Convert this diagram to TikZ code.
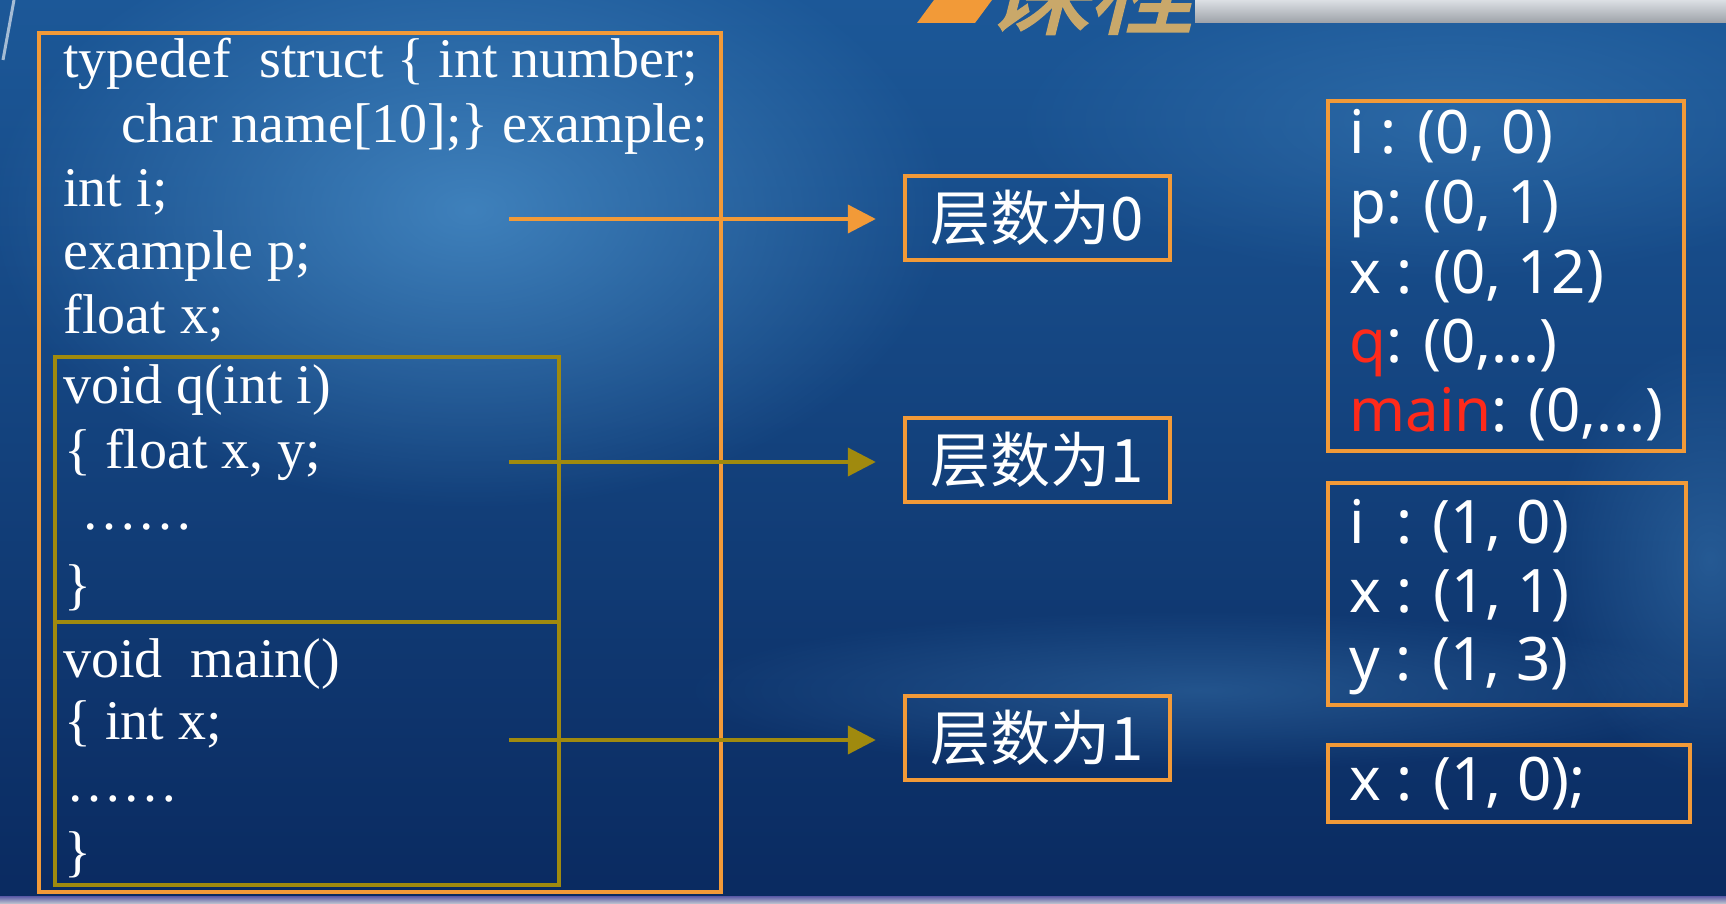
\documentclass[tikz,border=0pt]{standalone}
\usepackage{fontspec}
\setmainfont{Liberation Serif}
\newfontfamily\cjkfont{Noto Sans CJK SC}
\newfontfamily\latinsans{Noto Sans}
\newfontfamily\logofont[FakeBold=2,FakeSlant=0.25]{Noto Sans CJK SC}
\usetikzlibrary{arrows.meta,fadings}
\tikzfading[name=glowfade, inner color=transparent!0, outer color=transparent!100]
\definecolor{bgtop}{HTML}{1C5898}
\definecolor{bgbot}{HTML}{0A2A60}
\definecolor{glow}{HTML}{4C92CC}
\definecolor{orangeline}{HTML}{F29A38}
\definecolor{oliveline}{HTML}{A08A0E}
\definecolor{redtext}{HTML}{FF2A1A}
\definecolor{logotan}{HTML}{C9A86A}
\definecolor{bandgray}{HTML}{C4CAD2}
\tikzset{
  codebox/.style={draw=orangeline, line width=2.2pt, anchor=north west, inner sep=0pt},
  innerbox/.style={draw=oliveline, line width=2pt, anchor=north west, inner sep=0pt},
  codeline/.style={anchor=base west, inner sep=0pt, text=white, font=\fontsize{28}{32}\selectfont},
  levelbox/.style={draw=orangeline, line width=2.2pt, text=white, font=\cjkfont\fontsize{30}{34}\selectfont, minimum width=132.5pt, minimum height=42pt, inner sep=0pt},
  infobox/.style={draw=orangeline, line width=2.2pt, anchor=north west, inner sep=0pt},
  infoline/.style={anchor=base west, inner sep=0pt, text=white, font=\latinsans\fontsize{30}{34}\selectfont},
  arr/.style={line width=2pt, -{Triangle[length=14pt,width=14pt]}, shorten >=13.5pt},
}
\begin{document}
\begin{tikzpicture}[x=0.5pt,y=-0.5pt]
\useasboundingbox (0,0) rectangle (1726,904);
\begin{scope}
\clip (0,0) rectangle (1726,904);
% background
\shade[top color=bgtop, bottom color=bgbot] (0,0) rectangle (1726,904);
\fill[glow, path fading=glowfade, opacity=0.75] (470,210) ellipse [x radius=240pt, y radius=150pt];
\fill[glow!70!bgbot, path fading=glowfade, opacity=0.5] (1200,690) ellipse [x radius=260pt, y radius=40pt];
\fill[glow, path fading=glowfade, opacity=0.35] (1710,560) ellipse [x radius=80pt, y radius=110pt];
\fill[glow, path fading=glowfade, opacity=0.35] (1450,120) ellipse [x radius=220pt, y radius=80pt];
\draw[white, opacity=0.6, line width=1.5pt] (14,0) -- (3,60);
\shade[top color=gray!70!blue, bottom color=bandgray] (0,896) rectangle (1726,904);
% top band and logo
\shade[top color=bandgray!60!white, bottom color=bandgray!80!black] (1195,0) rectangle (1726,23);
\fill[orangeline] (917,23) -- (934,0) -- (992,0) -- (975,23) -- cycle;
\node[anchor=base west, inner sep=0pt, text=logotan, font=\logofont\fontsize{52}{52}\selectfont] (logo) at (985,26) {课程};
\end{scope}
% code area
\node[codebox, minimum width=341pt, minimum height=429.5pt] (outer) at (37,31) {};
\node[innerbox, minimum width=252pt, minimum height=132.5pt] (qbox) at (53,355) {};
\node[innerbox, minimum width=252pt, minimum height=131.5pt] (mainbox) at (53,620) {};
\node[codeline] (c1) at (63,78) {typedef\ \ struct \{ int number;};
\node[codeline] (c2) at (121,143) {char name[10];\} example;};
\node[codeline] (c3) at (63,206) {int i;};
\node[codeline] (c4) at (63,270) {example p;};
\node[codeline] (c5) at (63,333) {float x;};
\node[codeline] (c6) at (63,403) {void q(int i)};
\node[codeline] (c7) at (64,468) {\{ float x, y;};
\node[codeline] (c8) at (81,529) {……};
\node[codeline] (c9) at (64,603) {\}};
\node[codeline] (c10) at (63,677) {void\ \ main()};
\node[codeline] (c11) at (64,739) {\{ int x;};
\node[codeline] (c12) at (66,801) {……};
\node[codeline] (c13) at (64,870) {\}};
% level labels
\node[levelbox] (l0) at (1037.5,218) {层数为0};
\node[levelbox] (l1) at (1037.5,460) {层数为1};
\node[levelbox] (l2) at (1037.5,738) {层数为1};
% arrows
\coordinate (s0) at (509,219);
\coordinate (s1) at (509,462);
\coordinate (s2) at (509,740);
\draw[arr, orangeline] (s0) -- (s0 -| l0.west);
\draw[arr, oliveline] (s1) -- (s1 -| l1.west);
\draw[arr, oliveline] (s2) -- (s2 -| l2.west);
% info boxes
\node[infobox, minimum width=178pt, minimum height=175pt] (ba) at (1326,99) {};
\node[infobox, minimum width=179pt, minimum height=111pt] (bb) at (1326,481) {};
\node[infobox, minimum width=181pt, minimum height=38.5pt] (bc) at (1326,743) {};
\node[infoline] (a1) at (1349,154) {i : (0, 0)};
\node[infoline] (a2) at (1349,224) {p: (0, 1)};
\node[infoline] (a3) at (1349,293) {x : (0, 12)};
\node[infoline] (a4) at (1349,362) {{\color{redtext}q}: (0,...)};
\node[infoline] (a5) at (1349,431) {{\color{redtext}main}: (0,...)};
\node[infoline] (b1) at (1349,543) {i\ \ : (1, 0)};
\node[infoline] (b2) at (1349,612) {x : (1, 1)};
\node[infoline] (b3) at (1349,680) {y : (1, 3)};
\node[infoline] (cc1) at (1349,800) {x : (1, 0);};
\end{tikzpicture}
\end{document}
